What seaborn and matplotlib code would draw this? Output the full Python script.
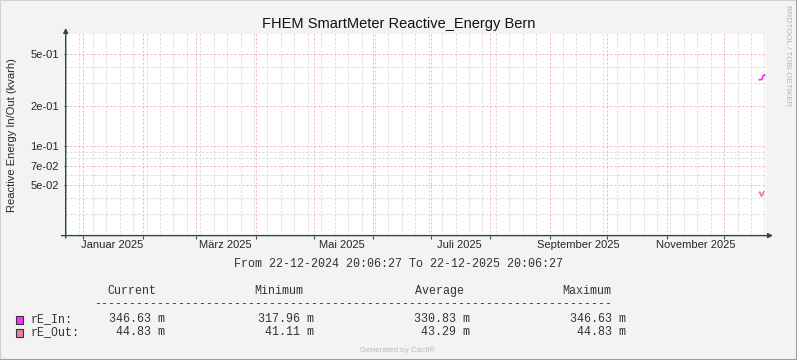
import matplotlib
matplotlib.use("Agg")
import numpy as np
import pandas as pd
import matplotlib.pyplot as plt
import matplotlib.dates as mdates
import seaborn as sns
from matplotlib.lines import Line2D
from matplotlib.patches import Rectangle
from matplotlib.ticker import FixedLocator, NullFormatter

# --- data ---------------------------------------------------------------
t_start = pd.Timestamp("2024-12-22 20:06:27")
t_end = pd.Timestamp("2025-12-22 20:06:27")

in_times = ["2025-12-19 06:00", "2025-12-20 16:00", "2025-12-21 06:00", "2025-12-22 06:00"]
in_values = [0.318, 0.320, 0.340, 0.3466]

out_times = ["2025-12-19 06:00", "2025-12-19 17:40", "2025-12-20 10:30", "2025-12-21 20:00"]
out_values = [0.0440, 0.0440, 0.0411, 0.0448]

series_names = ["rE_In", "rE_Out"]
series_colors = ["#FF2EFF", "#E0879F"]

# legend statistics (milli kvarh): current, minimum, average, maximum
stat_headers = ["Current", "Minimum", "Average", "Maximum"]
stats_in = [346.63, 317.96, 330.83, 346.63]
stats_out = [44.83, 41.11, 43.29, 44.83]

y_major = [0.05, 0.07, 0.1, 0.2, 0.5]
y_major_labels = ["5e-02", "7e-02", "1e-01", "2e-01", "5e-01"]
y_minor = [0.03, 0.04, 0.06, 0.08, 0.09, 0.3, 0.4]
y_limits = (0.0206, 0.71)

month_label_dates = ["2025-01-16", "2025-03-16", "2025-05-16", "2025-07-16", "2025-09-16", "2025-11-16"]
month_labels = ["Januar 2025", "März 2025", "Mai 2025", "Juli 2025", "September 2025", "November 2025"]

title = "FHEM SmartMeter Reactive_Energy Bern"
y_title = "Reactive Energy In/Out (kvarh)"

# --- style --------------------------------------------------------------
sns.set_style("white")
plt.rcParams["font.family"] = ["Liberation Sans", "DejaVu Sans"]

W, H = 797, 360
AXIS = "#2C4D43"
RED = "#F0B4B4"
GRAY = "#D6D6D6"

def px(x, y):
    return x / W, 1 - y / H

fig = plt.figure(figsize=(W / 100, H / 100), dpi=100, facecolor="#F3F3F3")
ax_l, ax_r, ax_t, ax_b = 65.7, 766.1, 34.0, 235.6
ax = fig.add_axes([ax_l / W, 1 - ax_b / H, (ax_r - ax_l) / W, (ax_b - ax_t) / H])
ax.set_facecolor("white")

df_in = pd.DataFrame({"time": pd.to_datetime(in_times), "value": in_values})
df_out = pd.DataFrame({"time": pd.to_datetime(out_times), "value": out_values})
sns.lineplot(data=df_in, x="time", y="value", color=series_colors[0], lw=1.3, ax=ax, zorder=5)
sns.lineplot(data=df_out, x="time", y="value", color=series_colors[1], lw=1.3, ax=ax, zorder=5)

ax.set_yscale("log")
ax.set_ylim(*y_limits)
ax.set_xlim(t_start, t_end)
ax.set_xlabel("")
ax.set_ylabel("")

# y ticks
ax.yaxis.set_major_locator(FixedLocator(y_major))
ax.yaxis.set_minor_locator(FixedLocator(y_minor))
ax.set_yticklabels(y_major_labels)
ax.yaxis.set_minor_formatter(NullFormatter())
ax.tick_params(axis="y", which="major", length=1.6, width=0.8, color=AXIS,
               labelsize=8, pad=3.2, left=True)
ax.tick_params(axis="y", which="minor", length=0)

# x ticks: month starts (red) and Mondays (gray)
ax.xaxis.set_major_locator(mdates.MonthLocator())
ax.xaxis.set_minor_locator(mdates.WeekdayLocator(byweekday=mdates.MO))
ax.xaxis.set_major_formatter(NullFormatter())
ax.tick_params(axis="x", which="major", length=1.8, width=0.8, color=AXIS, bottom=True)
ax.tick_params(axis="x", which="minor", length=0)

ax.grid(True, which="minor", color=GRAY, linestyle=(0, (2, 2)), lw=0.72)
ax.grid(True, which="major", color=RED, linestyle=(0, (2, 2)), lw=0.72)
ax.set_axisbelow(True)

for s in ax.spines.values():
    s.set_visible(False)

# month labels on a secondary axis
sec = ax.secondary_xaxis("bottom")
sec.set_xticks(mdates.date2num(pd.to_datetime(month_label_dates)), labels=month_labels)
sec.tick_params(length=0, labelsize=8, pad=3.0)
for s in sec.spines.values():
    s.set_visible(False)

# axis lines with arrows
arrow = dict(arrowstyle="-|>", color=AXIS, lw=1.0, shrinkA=0, shrinkB=0, mutation_scale=7)
ax.annotate("", xy=(1.0099, 0), xytext=(-0.006, 0), xycoords="axes fraction", arrowprops=arrow)
ax.annotate("", xy=(0, 1.03), xytext=(0, -0.012), xycoords="axes fraction", arrowprops=arrow)

# texts
fig.text(*px(398.5, 28.3), title, ha="center", va="baseline", fontsize=10.5, color="#111111")
fig.text(*px(12, 135), y_title, rotation=90, ha="center", va="center", fontsize=8)
fig.text(*px(788, 5), "RRDTOOL / TOBI OETIKER", rotation=270, ha="center", va="top",
         fontsize=5.8, color="#B4B4B4")

mono = dict(family="Liberation Mono", fontsize=8.4, color="#333333")
fig.text(*px(398.3, 266.7), "From 22-12-2024 20:06:27 To 22-12-2025 20:06:27",
         ha="center", va="baseline", **mono)

header_x = [107.3, 254, 415, 562.3]
for hx, name in zip(header_x, stat_headers):
    fig.text(*px(hx, 294), name, ha="left", va="baseline", **mono)
fig.text(*px(94, 307), "-" * 74, ha="left", va="baseline", **mono)

value_right = [164.6, 314, 470.4, 626]
rows_y = [322.3, 335.3]
box_y = [316, 329.3]
for name, col, stats, ry, by in zip(series_names, series_colors, [stats_in, stats_out], rows_y, box_y):
    fig.patches.append(Rectangle(px(15.7, by + 7.5), 7.5 / W, 7.5 / H, transform=fig.transFigure,
                                 facecolor=col, edgecolor="#333333", lw=0.8))
    fig.text(*px(31, ry), f"{name}:", ha="left", va="baseline", **mono)
    for vx, v in zip(value_right, stats):
        fig.text(*px(vx, ry), f"{v:.2f} m", ha="right", va="baseline", **mono)

fig.text(*px(398, 351.7), "Generated by Cacti®", ha="center", va="baseline",
         fontsize=5.8, color="#BBBBBB")

# frame around the image
fig.add_artist(Line2D([0, 0, 1], [0, 1, 1], transform=fig.transFigure, color="#CFCFCF", lw=1.5))
fig.add_artist(Line2D([0, 1, 1], [0, 0, 1], transform=fig.transFigure, color="#9E9E9E", lw=1.5))

fig.savefig("out.png", dpi=100, facecolor=fig.get_facecolor())
